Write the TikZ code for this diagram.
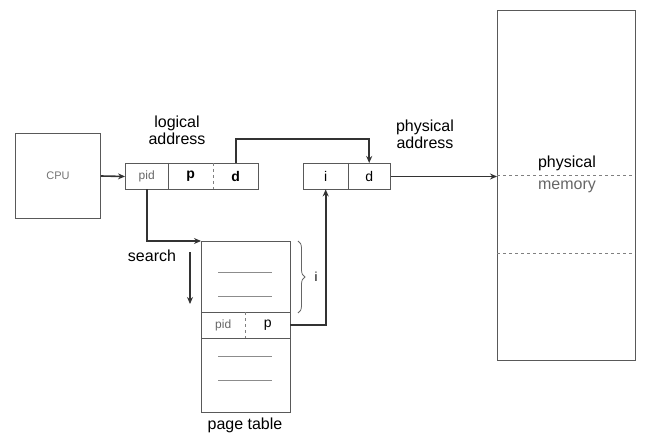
\documentclass[tikz,border=0pt]{standalone}
\usepackage{fontspec}
\setmainfont{Liberation Sans}
\usetikzlibrary{arrows.meta,decorations.pathreplacing}
\begin{document}
\begin{tikzpicture}[x=1pt,y=-1pt,
  boxline/.style={draw=black!65, line width=1pt},
  cellnode/.style={inner sep=0pt, anchor=north west, font=\fontsize{14}{14}\selectfont},
  conn/.style={draw=black!80, line width=1.6pt, -{Stealth[length=7pt,width=6pt]}},
  lbl/.style={font=\fontsize{16}{17}\selectfont, align=center, inner sep=0pt},
  entry/.style={draw=black!45, line width=0.8pt},
  sep/.style={draw=black!50, line width=0.8pt, dashed}]
\useasboundingbox (0,0) rectangle (651,441);

% CPU
\node[boxline, minimum width=85, minimum height=85, anchor=north west, inner sep=0pt,
      text=black!55, font=\fontsize{11}{11}\selectfont] (cpu) at (15,133) {CPU};

% logical address
\node[boxline, minimum width=133, minimum height=26, anchor=north west, inner sep=0pt] (laddr) at (125,163) {};
\node[cellnode, minimum width=43, minimum height=26, text=black!60, font=\fontsize{12}{12}\selectfont] (pid) at (125,163) {pid};
\node[cellnode, minimum width=45, minimum height=26, font=\bfseries\fontsize{14}{14}\selectfont] (p) at (168,163) {p};
\node[cellnode, minimum width=45, minimum height=26, font=\bfseries\fontsize{14}{14}\selectfont] (d) at (213,163) {d};
\draw[boxline] (pid.north east) -- (pid.south east);
\draw[sep] (p.north east) -- (p.south east);
\node[lbl] (lalbl) at (177,130) {logical\\address};

% physical address
\node[boxline, minimum width=87, minimum height=26, anchor=north west, inner sep=0pt] (paddr) at (303,163) {};
\node[cellnode, minimum width=45, minimum height=26] (pi) at (303,163) {i};
\node[cellnode, minimum width=42, minimum height=26] (pd) at (348,163) {d};
\draw[boxline] (pi.north east) -- (pi.south east);
\node[lbl] (palbl) at (425,134) {physical\\address};

% physical memory
\node[boxline, minimum width=138, minimum height=350, anchor=north west, inner sep=0pt] (mem) at (497,10) {};
\coordinate (m1l) at (497,175); \coordinate (m1r) at (635,175);
\coordinate (m2l) at (497,253); \coordinate (m2r) at (635,253);
\draw[sep] (m1l) -- (m1r);
\draw[sep] (m2l) -- (m2r);
\node[lbl] (memlbl1) at (567,163) {physical};
\node[lbl, text=black!60] (memlbl2) at (567,187) {memory};

% page table
\node[boxline, minimum width=89, minimum height=171, anchor=north west, inner sep=0pt] (pt) at (201,241) {};
\node[cellnode, minimum width=44, minimum height=26, text=black!60, font=\fontsize{12}{12}\selectfont] (ptpid) at (201,312) {pid};
\node[cellnode, minimum width=45, minimum height=26] (ptp) at (245,312) {p};
\draw[boxline] (ptpid.north west) -- (ptp.north east);
\draw[boxline] (ptpid.south west) -- (ptp.south east);
\draw[sep] (ptpid.north east) -- (ptpid.south east);
\foreach \yy/\nm in {272/a,296/b,356/c,380/e}{
  \coordinate (entL\nm) at (218,\yy); \coordinate (entR\nm) at (272,\yy);
  \draw[entry] (entL\nm) -- (entR\nm);
}
\node[lbl] (ptlbl) at (245,425) {page table};

% brace
\coordinate (bt) at (298,241);
\coordinate (bb) at (298,313);
\draw[draw=black!60, line width=0.8pt, decorate, decoration={brace, amplitude=7pt}] (bt) -- (bb);
\node[lbl, font=\fontsize{13}{13}\selectfont] (ilbl) at (316,277) {i};

% search
\node[lbl] (search) at (152,256) {search};
\coordinate (s1) at (190,252);
\coordinate (s2) at (190,304);
\draw[conn] (s1) -- (s2);

% connectors
\draw[conn] (cpu.east) -- (laddr.west);
\draw[conn] (d.north) -- ++(0,-24) -| (pd.north);
\draw[conn] (paddr.east) -- (mem.west |- paddr.east);
\draw[conn] (pid.south) |- (pt.north west);
\draw[conn] (ptp.east) -| (pi.south);
\end{tikzpicture}
\end{document}
